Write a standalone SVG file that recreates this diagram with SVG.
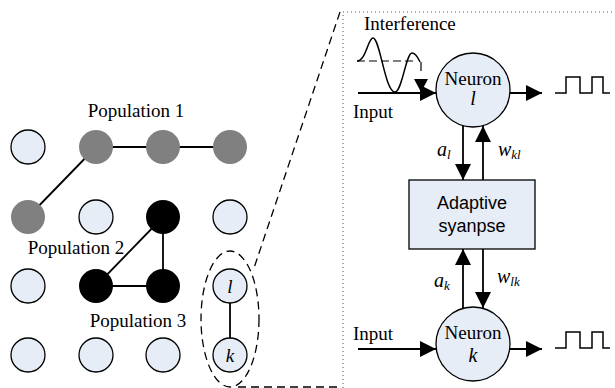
<svg xmlns="http://www.w3.org/2000/svg" width="615" height="388" viewBox="0 0 615 388">
<style>
.c{fill:#e6edf6;stroke:#000;stroke-width:1.3}
.g{fill:#808080;stroke:none}
.b{fill:#000;stroke:none}
.ln{stroke:#000;stroke-width:1.8;fill:none}
.t{font-family:"Liberation Serif","Times New Roman",serif;font-size:19px;fill:#000}
.i{font-family:"Liberation Serif","Times New Roman",serif;font-style:italic;fill:#000}
.s{font-family:"Liberation Sans",Arial,sans-serif;font-size:18px;fill:#000}
.dash{stroke:#000;stroke-width:1.3;fill:none;stroke-dasharray:8,5}
</style>
<defs>
<marker id="ah" markerUnits="userSpaceOnUse" markerWidth="16" markerHeight="16" refX="16" refY="8" orient="auto">
<path d="M0,0 L16,8 L0,16 Z" fill="#000"/>
</marker>
</defs>
<g id="connectors">
<line class="ln" x1="96" y1="147" x2="230" y2="147"/>
<line class="ln" x1="96" y1="147" x2="28" y2="217"/>
<line class="ln" x1="163" y1="217" x2="96" y2="286"/>
<line class="ln" x1="163" y1="217" x2="163" y2="286"/>
<line class="ln" x1="96" y1="286" x2="163" y2="286"/>
<line class="ln" x1="230" y1="286" x2="230" y2="355"/>
<line class="ln" x1="358" y1="93" x2="436" y2="93" marker-end="url(#ah)"/>
<line class="ln" x1="509" y1="93" x2="542" y2="93" marker-end="url(#ah)"/>
<line class="ln" x1="358" y1="349" x2="436" y2="349" marker-end="url(#ah)"/>
<line class="ln" x1="509" y1="349" x2="542" y2="349" marker-end="url(#ah)"/>
<line class="ln" x1="463" y1="126" x2="463" y2="180" marker-end="url(#ah)"/>
<line class="ln" x1="483" y1="180" x2="483" y2="126" marker-end="url(#ah)"/>
<line class="ln" x1="463" y1="308" x2="463" y2="249" marker-end="url(#ah)"/>
<line class="ln" x1="483" y1="249" x2="483" y2="308" marker-end="url(#ah)"/>
</g>
<g id="zoom-outline">
<ellipse class="dash" cx="230" cy="319" rx="29" ry="68"/>
<line class="dash" x1="340" y1="12" x2="254" y2="268"/>
<line class="dash" x1="238" y1="387" x2="342" y2="387"/>
<path d="M343,388 V12 H615" fill="none" stroke="#555" stroke-width="1" stroke-dasharray="1,3"/>
</g>
<g id="grid">
<circle class="c" cx="28" cy="147" r="17"/>
<circle class="g" cx="96" cy="147" r="17"/>
<circle class="g" cx="163" cy="147" r="17"/>
<circle class="g" cx="230" cy="147" r="17"/>
<circle class="g" cx="28" cy="217" r="17"/>
<circle class="c" cx="96" cy="217" r="17"/>
<circle class="b" cx="163" cy="217" r="17"/>
<circle class="c" cx="230" cy="217" r="17"/>
<circle class="c" cx="28" cy="286" r="17"/>
<circle class="b" cx="96" cy="286" r="17"/>
<circle class="b" cx="163" cy="286" r="17"/>
<circle class="c" cx="28" cy="355" r="17"/>
<circle class="c" cx="96" cy="355" r="17"/>
<circle class="c" cx="163" cy="355" r="17"/>
</g>
<g id="node-l">
<circle class="c" cx="230" cy="286" r="17"/>
<text class="i" x="230" y="293" font-size="19" text-anchor="middle">l</text>
</g>
<g id="node-k">
<circle class="c" cx="230" cy="355" r="17"/>
<text class="i" x="230" y="362" font-size="19" text-anchor="middle">k</text>
</g>
<g id="labels">
<text class="t" x="136" y="117" text-anchor="middle">Population 1</text>
<text class="t" x="76" y="254" text-anchor="middle">Population 2</text>
<text class="t" x="138" y="327" text-anchor="middle">Population 3</text>
</g>
<g id="interference">
<text class="t" x="364" y="30">Interference</text>
<line x1="357" y1="61" x2="416" y2="61" stroke="#000" stroke-width="1.2" stroke-dasharray="8,4"/>
<path d="M357,61 C366,61 368,38 373,38 C380,38 385,92 395,92 C402,92 406,53 412,53 C416,53 418,58 420,62" fill="none" stroke="#000" stroke-width="1.5"/>
<line x1="421" y1="62" x2="421" y2="71" stroke="#000" stroke-width="1.2"/>
<polygon points="414,79 428,79 421,92" fill="#000"/>
</g>
<g id="neuron-l">
<circle class="c" cx="473" cy="90" r="37"/>
<text class="t" x="473" y="85" font-size="20" text-anchor="middle">Neuron</text>
<text class="i" x="473" y="105" font-size="20" text-anchor="middle">l</text>
</g>
<g id="neuron-k">
<circle class="c" cx="473" cy="344" r="37"/>
<text class="t" x="473" y="339" font-size="20" text-anchor="middle">Neuron</text>
<text class="i" x="473" y="362" font-size="20" text-anchor="middle">k</text>
</g>
<g id="synapse">
<rect class="c" x="409" y="180" width="126" height="69"/>
<text class="s" x="472" y="209" text-anchor="middle">Adaptive</text>
<text class="s" x="472" y="232" text-anchor="middle">syanpse</text>
</g>
<g id="io-labels">
<text class="t" x="353" y="118">Input</text>
<text class="t" x="353" y="340">Input</text>
<text class="i" x="437" y="156" font-size="20">a<tspan font-size="13" dy="3">l</tspan></text>
<text class="i" x="498" y="156" font-size="20">w<tspan font-size="13" dy="3">kl</tspan></text>
<text class="i" x="434" y="287" font-size="20">a<tspan font-size="13" dy="3">k</tspan></text>
<text class="i" x="497" y="283" font-size="20">w<tspan font-size="13" dy="3">lk</tspan></text>
</g>
<g id="spikes">
<path d="M555,93 H566 V77 H580 V93 H592 V77 H603 V93 H610" fill="none" stroke="#000" stroke-width="1.5"/>
<path d="M555,348 H566 V332 H580 V348 H592 V332 H603 V348 H610" fill="none" stroke="#000" stroke-width="1.5"/>
</g>
</svg>
